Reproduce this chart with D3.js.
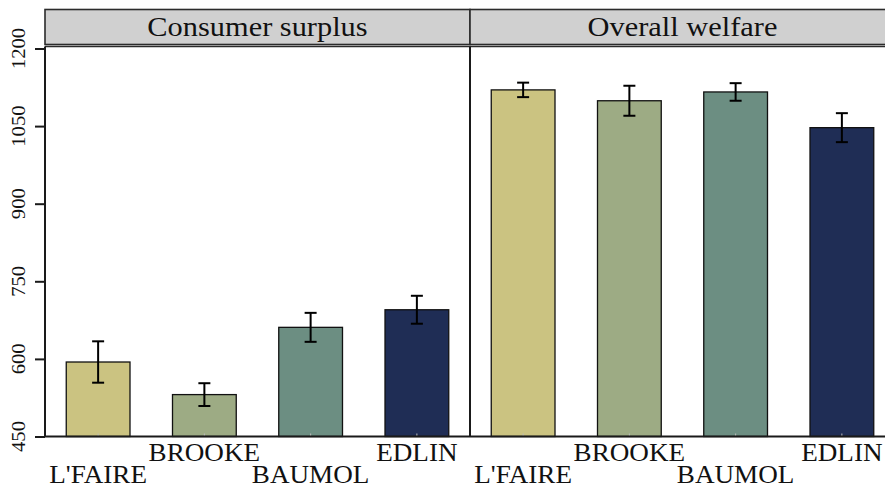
<!DOCTYPE html>
<html>
<head>
<meta charset="utf-8">
<script src="https://cdn.jsdelivr.net/npm/d3@7"></script>
<style>
  html, body { margin: 0; padding: 0; background: #fff; }
  svg { display: block; }
</style>
</head>
<body>
<svg id="chart" width="885" height="486"></svg>
<script>
// Regimes shown on the x axis of each panel
const categories = ["L'FAIRE", "BROOKE", "BAUMOL", "EDLIN"];
// Panel titles
const panels = ["Consumer surplus", "Overall welfare"];
// Mean values per regime
const consumerSurplus = [594, 531, 661, 695];
const overallWelfare = [1120, 1099, 1116, 1047];
// Half-width of the confidence interval per regime
const consumerSurplusErr = [40, 22, 28, 27];
const overallWelfareErr = [14, 29, 17, 28];
// Y axis ticks
const yTicks = [450, 600, 750, 900, 1050, 1200];
const colors = ["#cbc381", "#9dab84", "#6c8e82", "#1f2d55"];

const seriesValues = [consumerSurplus, overallWelfare];
const seriesErrors = [consumerSurplusErr, overallWelfareErr];

const FONT = "'Liberation Serif', 'Times New Roman', serif";
const svg = d3.select("#chart");
const plotLeft = 45, panelW = 425, plotTop = 46.5, plotBottom = 436.5;
const stripTop = 9.5, stripBottom = 44.5;
const stretch = 1.085; // widen serif glyphs a little

function widen(sel) {
  sel.each(function () {
    const w = this.getComputedTextLength();
    d3.select(this).attr("textLength", w * stretch).attr("lengthAdjust", "spacingAndGlyphs");
  });
}

const y = d3.scaleLinear().domain([450, 1200]).range([plotBottom, 48.5]);

panels.forEach((title, p) => {
  const x0 = plotLeft + p * panelW;
  const x = d3.scaleBand().domain(categories).range([x0, x0 + panelW]).paddingInner(0.4).paddingOuter(0.2);
  const g = svg.append("g");

  // strip header
  g.append("rect").attr("x", x0).attr("y", stripTop).attr("width", panelW).attr("height", stripBottom - stripTop)
    .attr("fill", "#d0d0d0").attr("stroke", "#2b2b2b").attr("stroke-width", 1.6);
  g.append("text").attr("x", x0 + panelW / 2).attr("y", stripBottom - 9).attr("text-anchor", "middle")
    .style("font-family", FONT).attr("font-size", 28).attr("fill", "#111").text(title).call(widen);

  // panel top border
  g.append("line").attr("x1", x0).attr("x2", x0 + panelW).attr("y1", plotTop).attr("y2", plotTop)
    .attr("stroke", "#2b2b2b").attr("stroke-width", 1.4);

  // bars
  const vals = seriesValues[p], errs = seriesErrors[p];
  g.selectAll("rect.bar").data(categories).join("rect").attr("class", "bar")
    .attr("x", d => x(d)).attr("width", x.bandwidth())
    .attr("y", (d, i) => y(vals[i])).attr("height", (d, i) => y(450) - y(vals[i]))
    .attr("fill", (d, i) => colors[i]).attr("stroke", "#111").attr("stroke-width", 1.3);

  // error bars
  const cap = 6;
  const eb = g.selectAll("g.err").data(categories).join("g").attr("class", "err")
    .attr("stroke", "#000").attr("stroke-width", 2);
  eb.append("line").attr("x1", d => x(d) + x.bandwidth() / 2).attr("x2", d => x(d) + x.bandwidth() / 2)
    .attr("y1", (d, i) => y(vals[i] + errs[i])).attr("y2", (d, i) => y(vals[i] - errs[i]));
  eb.append("line").attr("x1", d => x(d) + x.bandwidth() / 2 - cap).attr("x2", d => x(d) + x.bandwidth() / 2 + cap)
    .attr("y1", (d, i) => y(vals[i] + errs[i])).attr("y2", (d, i) => y(vals[i] + errs[i]));
  eb.append("line").attr("x1", d => x(d) + x.bandwidth() / 2 - cap).attr("x2", d => x(d) + x.bandwidth() / 2 + cap)
    .attr("y1", (d, i) => y(vals[i] - errs[i])).attr("y2", (d, i) => y(vals[i] - errs[i]));

  // x axis with staggered labels
  const xAxis = g.append("g").attr("transform", `translate(0,${plotBottom})`)
    .call(d3.axisBottom(x).tickSize(3).tickFormat(""));
  xAxis.select(".domain").remove();
  xAxis.selectAll(".tick line").attr("stroke", "#bbb").attr("transform", "translate(0,-3)");
  g.selectAll("text.xlab").data(categories).join("text").attr("class", "xlab")
    .attr("x", d => x(d) + x.bandwidth() / 2)
    .attr("y", (d, i) => i % 2 === 0 ? 483 : 460.5)
    .attr("text-anchor", "middle").style("font-family", FONT).attr("font-size", 25).attr("fill", "#111")
    .text(d => d).call(widen);

  // left boundary line of panel
  g.append("line").attr("x1", x0).attr("x2", x0).attr("y1", plotTop).attr("y2", plotBottom)
    .attr("stroke", "#1a1a1a").attr("stroke-width", 2);
});

// bottom axis line across both panels
svg.append("line").attr("x1", plotLeft).attr("x2", plotLeft + 2 * panelW).attr("y1", plotBottom).attr("y2", plotBottom)
  .attr("stroke", "#1a1a1a").attr("stroke-width", 2);

// y axis
const yAxis = svg.append("g").attr("transform", `translate(${plotLeft},0)`)
  .call(d3.axisLeft(y).tickValues(yTicks).tickSize(10).tickFormat(""));
yAxis.select(".domain").remove();
yAxis.selectAll(".tick line").attr("stroke", "#1a1a1a").attr("stroke-width", 2);
svg.selectAll("text.ylab").data(yTicks).join("text").attr("class", "ylab")
  .attr("transform", d => `translate(25,${y(d)}) rotate(-90)`)
  .attr("text-anchor", "middle").style("font-family", FONT).attr("font-size", 19).attr("fill", "#111")
  .text(d => d).call(widen);
</script>
</body>
</html>
